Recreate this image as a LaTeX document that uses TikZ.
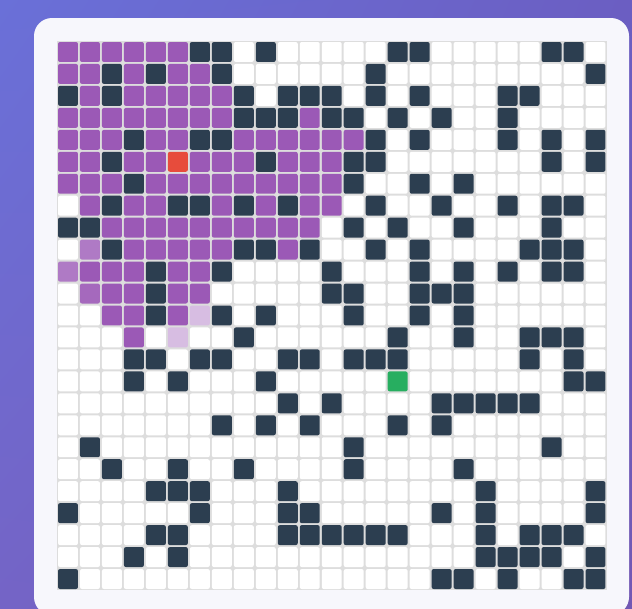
\documentclass[tikz,border=0pt]{standalone}
\usetikzlibrary{shadings}
\definecolor{bgUL}{HTML}{6A70D8}
\definecolor{bgUR}{HTML}{6B5EC2}
\definecolor{bgLL}{HTML}{7464C6}
\definecolor{bgLR}{HTML}{7258B4}
\definecolor{cardcol}{HTML}{F7F7FC}
\definecolor{gridline}{HTML}{DDDDDD}
\definecolor{cP}{HTML}{9B59B6}
\definecolor{cD}{HTML}{2C3E50}
\definecolor{cW}{HTML}{FFFFFF}
\definecolor{cR}{HTML}{E74C3C}
\definecolor{cG}{HTML}{27AE60}
\definecolor{cL}{HTML}{D7BDE2}
\definecolor{cM}{HTML}{AF7AC5}
\definecolor{cN}{HTML}{A569BD}
\tikzset{
  cellbox/.style={rounded corners=2pt},
}
\begin{document}
\begin{tikzpicture}[x=1pt,y=-1pt]
\useasboundingbox (0,0) rectangle (632,608);
\shade[upper left=bgUL, upper right=bgUR, lower left=bgLL, lower right=bgLR] (0,0) rectangle (632,608);
\begin{scope}
\clip (0,0) rectangle (632,608);
\fill[cardcol, rounded corners=18pt] (34,18) rectangle (629,615);
\end{scope}
\fill[gridline] (57,41) rectangle (606.5,590);
\foreach \rowlist [count=\r from 0] in {%
{P,P,P,P,P,P,D,D,W,D,W,W,W,W,W,D,D,W,W,W,W,W,D,D,W},%
{P,P,D,P,D,P,P,D,W,W,W,W,W,W,D,W,W,W,W,W,W,W,W,W,D},%
{D,P,D,P,P,P,P,P,D,W,D,D,D,W,D,W,D,W,W,W,D,D,W,W,W},%
{P,P,P,P,P,P,P,P,D,D,D,P,D,D,W,D,W,D,W,W,D,W,W,W,W},%
{P,P,P,D,P,P,D,D,P,P,P,P,P,P,D,W,D,W,W,W,D,W,D,W,D},%
{P,P,D,P,P,R,P,P,P,D,P,P,P,D,D,W,W,W,W,W,W,W,D,W,D},%
{P,P,P,D,P,P,P,P,P,P,P,P,P,D,W,W,D,W,D,W,W,W,W,W,W},%
{W,P,D,P,P,D,D,P,D,P,D,P,P,W,D,W,W,D,W,W,D,W,D,D,W},%
{D,D,P,P,P,P,P,P,P,P,P,P,W,D,W,D,W,W,D,W,W,W,D,W,W},%
{W,M,D,P,P,P,P,P,D,D,P,D,W,W,D,W,D,W,W,W,W,D,D,D,W},%
{M,P,P,P,D,P,P,D,W,W,W,W,D,W,W,W,D,W,D,W,D,W,D,D,W},%
{W,N,P,P,D,P,P,W,W,W,W,W,D,D,W,W,D,D,D,W,W,W,W,W,W},%
{W,W,P,P,D,P,L,D,W,D,W,W,W,D,W,W,D,W,D,W,W,W,W,W,W},%
{W,W,W,P,W,L,W,W,D,W,W,W,W,W,W,D,W,W,D,W,W,D,D,D,W},%
{W,W,W,D,D,W,D,D,W,W,D,D,W,D,D,D,W,W,W,W,W,D,W,D,W},%
{W,W,W,D,W,D,W,W,W,D,W,W,W,W,W,G,W,W,W,W,W,W,W,D,D},%
{W,W,W,W,W,W,W,W,W,W,D,W,D,W,W,W,W,D,D,D,D,D,W,W,W},%
{W,W,W,W,W,W,W,D,W,D,W,D,W,W,W,D,W,D,W,W,W,W,W,W,W},%
{W,D,W,W,W,W,W,W,W,W,W,W,W,D,W,W,W,W,W,W,W,W,D,W,W},%
{W,W,D,W,W,D,W,W,D,W,W,W,W,D,W,W,W,W,D,W,W,W,W,W,W},%
{W,W,W,W,D,D,D,W,W,W,D,W,W,W,W,W,W,W,W,D,W,W,W,W,D},%
{D,W,W,W,W,W,D,W,W,W,D,D,W,W,W,W,W,D,W,D,W,W,W,W,D},%
{W,W,W,W,D,D,W,W,W,W,D,D,D,D,D,D,W,W,W,D,W,D,D,D,W},%
{W,W,W,D,W,D,W,W,W,W,W,W,W,W,W,W,W,W,W,D,D,D,D,W,D},%
{D,W,W,W,W,W,W,W,W,W,W,W,W,W,W,W,W,D,D,W,D,W,W,D,D}}{%
  \foreach \c [count=\k from 0] in \rowlist {%
    \pgfmathsetmacro{\xa}{57+21.98*\k+1}%
    \pgfmathsetmacro{\ya}{41+21.96*\r+1}%
    \fill[cellbox, fill=c\c] (\xa,\ya) rectangle ++(19.96,19.96);%
  }%
}
\end{tikzpicture}
\end{document}
